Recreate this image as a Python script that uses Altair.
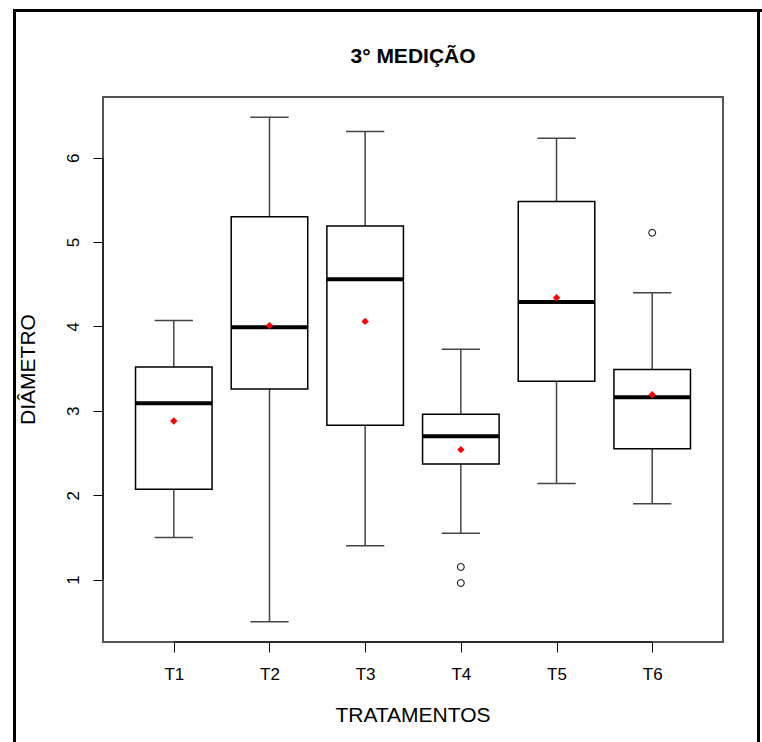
import altair as alt
import pandas as pd

# Box-plot summary per treatment (diameter, third measurement)
treatments = ["T1", "T2", "T3", "T4", "T5", "T6"]
lower_whisker = [1.50, 0.50, 1.40, 1.55, 2.14, 1.90]
q1 = [2.07, 3.26, 2.83, 2.37, 3.35, 2.55]
median = [3.09, 3.99, 4.56, 2.70, 4.29, 3.16]
q3 = [3.52, 5.30, 5.19, 2.96, 5.48, 3.49]
upper_whisker = [4.07, 6.48, 6.31, 3.73, 6.23, 4.40]
means = [2.88, 4.01, 4.06, 2.54, 4.34, 3.19]

# Points beyond the whiskers
outlier_group = ["T4", "T4", "T6"]
outlier_value = [1.15, 0.96, 5.11]

y_ticks = [1, 2, 3, 4, 5, 6]

FONT = "Liberation Sans"
W, H = 620, 545

pos = list(range(1, len(treatments) + 1))
box_half, cap_half = 0.4, 0.2
df = pd.DataFrame({
    "trat": treatments,
    "pos": pos,
    "left": [p - box_half for p in pos],
    "right": [p + box_half for p in pos],
    "capl": [p - cap_half for p in pos],
    "capr": [p + cap_half for p in pos],
    "lo": lower_whisker,
    "q1": q1,
    "med": median,
    "q3": q3,
    "hi": upper_whisker,
    "mean": means,
})
out_df = pd.DataFrame({
    "pos": [treatments.index(g) + 1 for g in outlier_group],
    "val": outlier_value,
})

# R-style axis limits: 4% extension of the data range
ymin = min(lower_whisker + outlier_value)
ymax = max(upper_whisker + outlier_value)
ext = 0.04 * (ymax - ymin)
y_dom = [ymin - ext, ymax + ext]
n = len(treatments)
x_ext = 0.04 * n
x_dom = [0.5 - x_ext, n + 0.5 + x_ext]

label_expr = "[" + ",".join(f"'{t}'" for t in treatments) + "][datum.value - 1]"

xs = alt.Scale(domain=x_dom, nice=False, zero=False)
ys = alt.Scale(domain=y_dom, nice=False, zero=False)
x_axis = alt.Axis(values=pos, labelExpr=label_expr, title=None, grid=False,
                  domain=False, tickSize=10, tickColor="black", tickWidth=1,
                  labelFont=FONT, labelFontSize=17, labelColor="black",
                  labelPadding=22, labelBaseline="middle")
y_axis = alt.Axis(values=y_ticks, title=None, grid=False, domain=False,
                  tickSize=10, tickColor="black", tickWidth=1,
                  labelFont=FONT, labelFontSize=17, labelColor="black",
                  labelAngle=-90, labelAlign="center", labelBaseline="alphabetic",
                  labelPadding=15)

base = alt.Chart(df)

whisk_color = "#444444"
upper_w = base.mark_rule(color=whisk_color, strokeWidth=1.5).encode(
    x=alt.X("pos:Q", scale=xs, axis=x_axis),
    y=alt.Y("q3:Q", scale=ys, axis=y_axis),
    y2="hi:Q",
)
lower_w = base.mark_rule(color=whisk_color, strokeWidth=1.5).encode(
    x=alt.X("pos:Q", scale=xs, axis=x_axis),
    y=alt.Y("lo:Q", scale=ys, axis=y_axis),
    y2="q1:Q",
)
cap_hi = base.mark_rule(color=whisk_color, strokeWidth=1.5).encode(
    x=alt.X("capl:Q", scale=xs, axis=x_axis),
    x2="capr:Q",
    y=alt.Y("hi:Q", scale=ys, axis=y_axis),
)
cap_lo = base.mark_rule(color=whisk_color, strokeWidth=1.5).encode(
    x=alt.X("capl:Q", scale=xs, axis=x_axis),
    x2="capr:Q",
    y=alt.Y("lo:Q", scale=ys, axis=y_axis),
)
boxes = base.mark_rect(fill="white", stroke="black", strokeWidth=1.5).encode(
    x=alt.X("left:Q", scale=xs, axis=x_axis),
    x2="right:Q",
    y=alt.Y("q1:Q", scale=ys, axis=y_axis),
    y2="q3:Q",
)
medians = base.mark_rule(color="black", strokeWidth=4).encode(
    x=alt.X("left:Q", scale=xs, axis=x_axis),
    x2="right:Q",
    y=alt.Y("med:Q", scale=ys, axis=y_axis),
)
mean_pts = base.mark_point(shape="diamond", filled=True, color="#ff0000",
                           size=55, opacity=1).encode(
    x=alt.X("pos:Q", scale=xs, axis=x_axis),
    y=alt.Y("mean:Q", scale=ys, axis=y_axis),
)
outliers = alt.Chart(out_df).mark_point(shape="circle", filled=False,
                                        color="black", size=48,
                                        strokeWidth=1, opacity=1).encode(
    x=alt.X("pos:Q", scale=xs, axis=x_axis),
    y=alt.Y("val:Q", scale=ys, axis=y_axis),
)

one = alt.Chart(pd.DataFrame({"k": [0]}))

# Axis lines spanning first to last tick
x_line = one.mark_rule(color="black", strokeWidth=1).encode(
    x=alt.value((1 - x_dom[0]) / (x_dom[1] - x_dom[0]) * W),
    x2=alt.value((n - x_dom[0]) / (x_dom[1] - x_dom[0]) * W),
    y=alt.value(H),
)
y_line = one.mark_rule(color="black", strokeWidth=1).encode(
    x=alt.value(0),
    y=alt.value(H - (1 - y_dom[0]) / (y_dom[1] - y_dom[0]) * H),
    y2=alt.value(H - (6 - y_dom[0]) / (y_dom[1] - y_dom[0]) * H),
)

title = one.mark_text(text="3° MEDIÇÃO", font=FONT, fontSize=21,
                      fontWeight="bold", color="black", baseline="middle",
                      align="center").encode(x=alt.value(W / 2), y=alt.value(-40))
x_title = one.mark_text(text="TRATAMENTOS", font=FONT, fontSize=21,
                        color="black", baseline="middle",
                        align="center").encode(x=alt.value(W / 2), y=alt.value(H + 74))
y_title = one.mark_text(text="DIÂMETRO", font=FONT, fontSize=21, angle=270,
                        color="black", baseline="middle",
                        align="center").encode(x=alt.value(-74), y=alt.value(H / 2))

# Outer figure frame
frame_color = "black"
frame_left = one.mark_rule(color=frame_color, strokeWidth=3).encode(
    x=alt.value(-88.5), y=alt.value(-87), y2=alt.value(H + 110))
frame_top = one.mark_rule(color=frame_color, strokeWidth=3).encode(
    x=alt.value(-90), x2=alt.value(W + 40), y=alt.value(-86.5))
frame_right = one.mark_rule(color=frame_color, strokeWidth=3).encode(
    x=alt.value(W + 35.5), y=alt.value(-87), y2=alt.value(H + 110))

chart = alt.layer(
    upper_w, lower_w, cap_hi, cap_lo, boxes, medians, mean_pts, outliers,
    x_line, y_line, title, x_title, y_title, frame_left, frame_top, frame_right,
).properties(
    width=W, height=H,
    autosize=alt.AutoSizeParams(type="none"),
    padding={"left": 103, "top": 97, "right": 762 - 103 - W, "bottom": 742 - 97 - H},
    background="white",
).configure_view(stroke="#555555", strokeWidth=2)

chart.save("out.html", embed_options={"renderer": "svg", "actions": False})
